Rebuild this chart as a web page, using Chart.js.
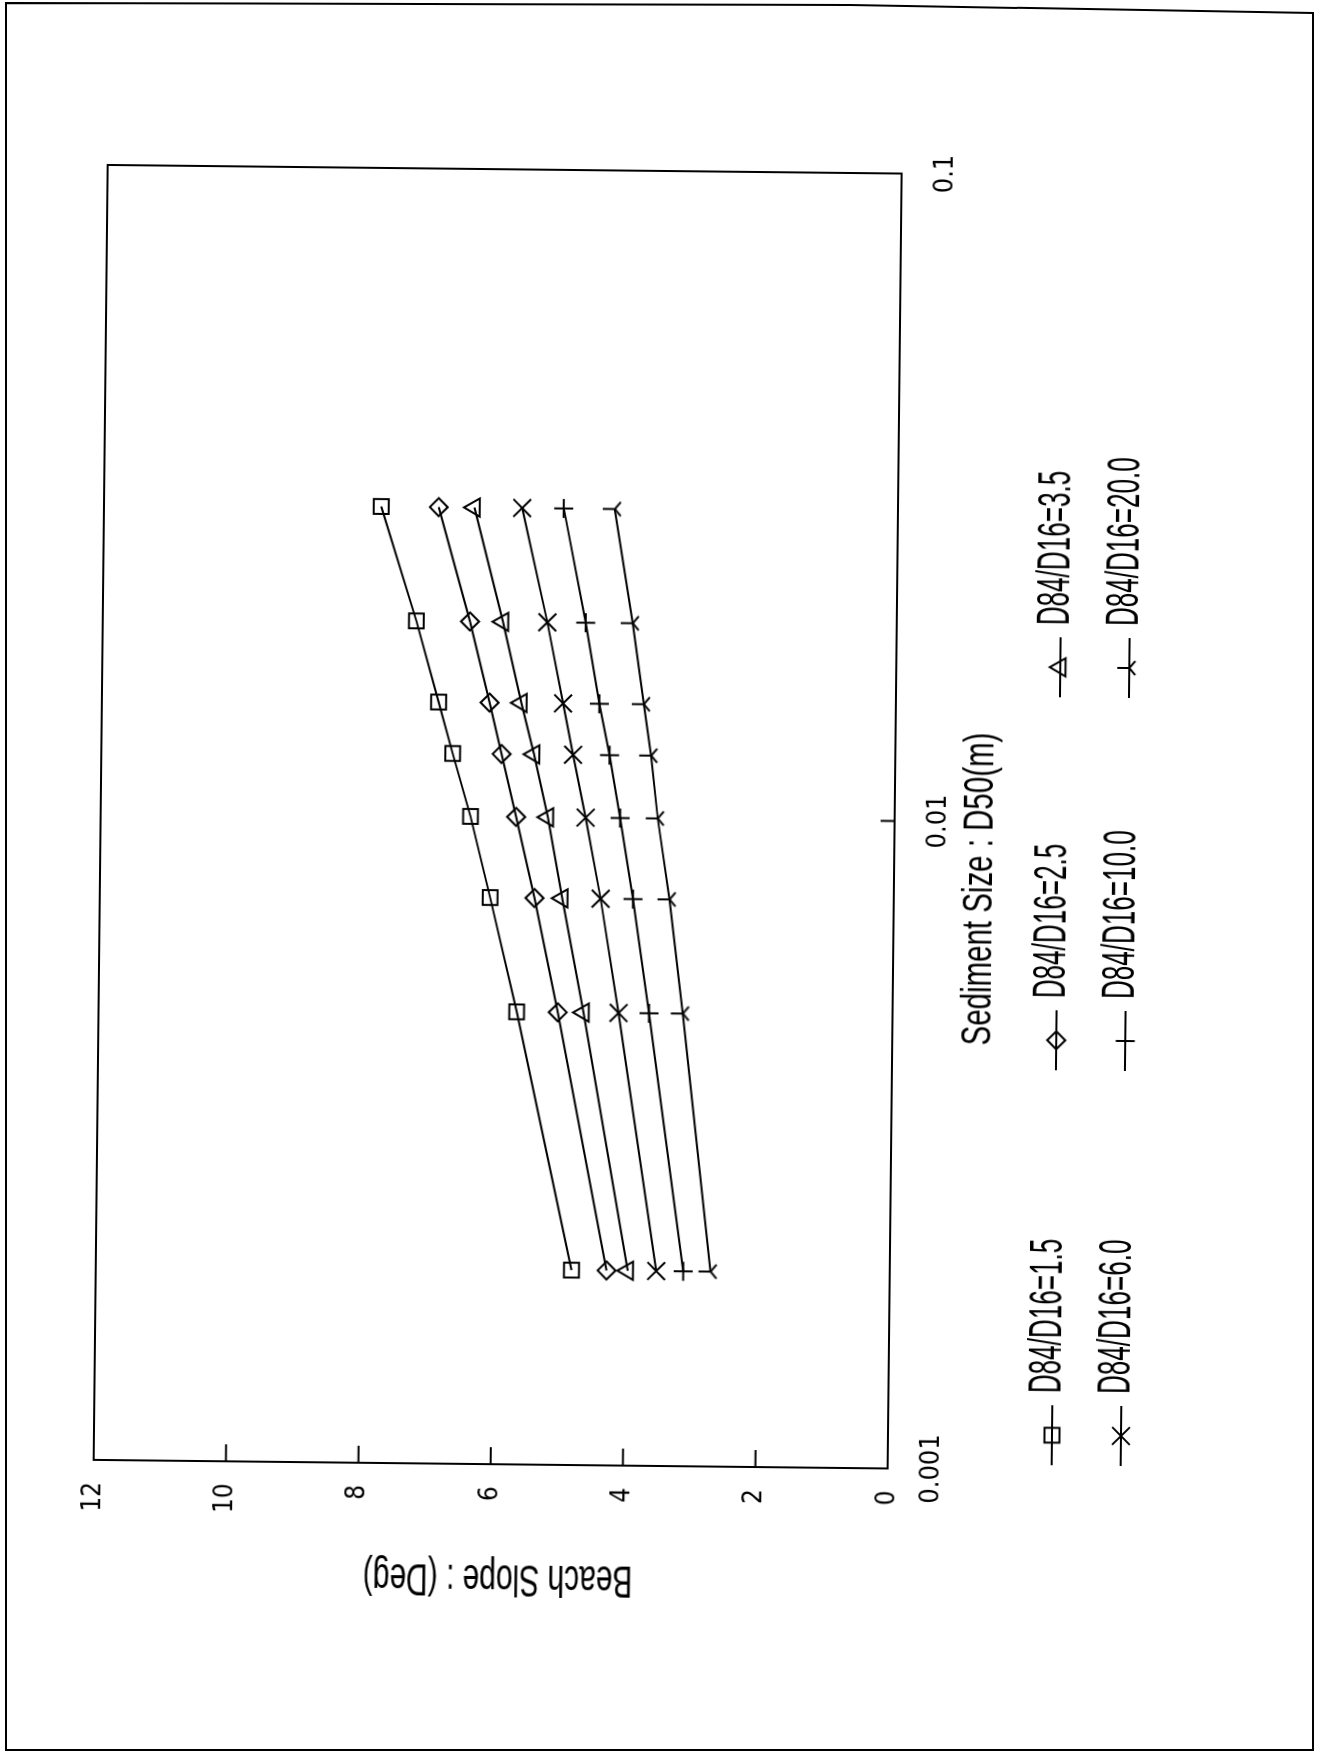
<!DOCTYPE html>
<html>
<head>
<meta charset="utf-8">
<title>Beach Slope vs Sediment Size</title>
<script src="https://cdn.jsdelivr.net/npm/chart.js@4.4.1/dist/chart.umd.min.js"></script>
<style>
  html, body { margin: 0; padding: 0; background: #fff; }
  body { width: 1324px; height: 1754px; position: relative; overflow: hidden; }
  #frame { position: absolute; left: 0; top: 0; }
  #turn { position: absolute; left: -215px; top: 215px; width: 1754px; height: 1324px; transform: rotate(-89.38deg); }
  #turn canvas { display: block; }
</style>
</head>
<body>
<svg id="frame" width="1324" height="1754">
  <polygon points="6,3 850,5 1313,13 1313,1750 6,1750" fill="none" stroke="#000" stroke-width="2"/>
</svg>
<div id="turn"><canvas id="slopeChart" width="1754" height="1324"></canvas></div>
<script>
// ---------------- DONNEES ----------------
const d50 = [0.002, 0.005, 0.0075, 0.01, 0.0125, 0.015, 0.02, 0.03];
const slope15 = [4.81, 5.68, 6.10, 6.41, 6.69, 6.91, 7.26, 7.81];
const slope25 = [4.28, 5.06, 5.43, 5.72, 5.95, 6.14, 6.45, 6.94];
const slope35 = [3.96, 4.67, 5.01, 5.24, 5.46, 5.66, 5.95, 6.40];
const slope60 = [3.53, 4.14, 4.43, 4.67, 4.87, 5.03, 5.28, 5.68];
const slope100 = [3.12, 3.68, 3.94, 4.15, 4.32, 4.48, 4.70, 5.05];
const slope200 = [2.71, 3.17, 3.39, 3.58, 3.69, 3.81, 3.99, 4.28];
const seriesLabels = ['D84/D16=1.5', 'D84/D16=2.5', 'D84/D16=3.5', 'D84/D16=6.0', 'D84/D16=10.0', 'D84/D16=20.0'];
const xTicks = [0.001, 0.01, 0.1];
const yTicks = [0, 2, 4, 6, 8, 10, 12];
const xTitle = 'Sediment Size : D50(m)';
const yTitle = 'Beach Slope : (Deg)';

const black = '#000';
const tickFont = '"Liberation Sans Narrow", "DejaVu Sans Condensed", "Liberation Sans", sans-serif';

// Marqueur "Y" renversé (pas dispo dans Chart.js)
function tripod() {
    const c = document.createElement('canvas');
    c.width = 30;
    c.height = 30;
    const g = c.getContext('2d');
    g.strokeStyle = black;
    g.lineWidth = 2;
    g.beginPath();
    g.moveTo(15, 15); g.lineTo(15, 3);
    g.moveTo(15, 15); g.lineTo(8, 21);
    g.moveTo(15, 15); g.lineTo(22, 21);
    g.stroke();
    return c;
}

const styles = ['rect', 'rectRot', 'triangle', 'crossRot', 'cross', tripod()];
const radii = [10.5, 9, 10.5, 12.5, 9.5, 12];
const allSlopes = [slope15, slope25, slope35, slope60, slope100, slope200];

const datasets = allSlopes.map((s, i) => ({
    label: seriesLabels[i],
    data: d50.map((x, j) => ({ x: x, y: s[j] })),
    showLine: true,
    borderColor: black,
    borderWidth: 2,
    tension: 0,
    pointStyle: styles[i],
    pointRadius: radii[i],
    pointHoverRadius: radii[i],
    pointBorderColor: black,
    pointBackgroundColor: 'rgba(0,0,0,0)',
    pointBorderWidth: 2
}));

// texte étroit façon traceur
function narrowText(ctx, text, x, y, capH, rot) {
    ctx.save();
    ctx.translate(x, y);
    ctx.rotate(rot || 0);
    ctx.font = Math.round(capH / 0.72) + 'px "Liberation Sans", Arial, sans-serif';
    const w = ctx.measureText(text).width;
    const target = text.length * 14.4 - 4;
    ctx.scale(target / w, 1);
    ctx.textAlign = 'left';
    ctx.textBaseline = 'alphabetic';
    ctx.fillStyle = black;
    ctx.fillText(text, 0, 0);
    ctx.restore();
}

function legendMarker(ctx, i, px, py) {
    const opts = { pointStyle: styles[i], radius: radii[i], rotation: 0, borderWidth: 2 };
    ctx.save();
    ctx.strokeStyle = black;
    ctx.fillStyle = 'rgba(0,0,0,0)';
    ctx.lineWidth = 2;
    ctx.beginPath();
    ctx.moveTo(px - 30, py);
    ctx.lineTo(px + 30, py);
    ctx.stroke();
    Chart.helpers.drawPoint(ctx, opts, px, py);
    ctx.restore();
}

const legendCols = [323, 718, 1091];
const legendRows = [1066, 1135];

const plotDecor = {
    id: 'plotDecor',
    afterDraw(chart) {
        const { ctx, chartArea: a, scales } = chart;
        const x = scales.x;
        const y = scales.y;
        ctx.save();
        ctx.strokeStyle = black;
        ctx.lineWidth = 2;
        ctx.strokeRect(a.left, a.top, a.right - a.left, a.bottom - a.top);

        // graduations vers l'intérieur
        ctx.beginPath();
        y.ticks.forEach(t => {
            if (t.value > y.min && t.value < y.max) {
                const py = y.getPixelForValue(t.value);
                ctx.moveTo(a.left, py);
                ctx.lineTo(a.left + 17, py);
            }
        });
        x.ticks.forEach(t => {
            if (t.value > x.min && t.value < x.max) {
                const px = x.getPixelForValue(t.value);
                ctx.moveTo(px, a.bottom);
                ctx.lineTo(px, a.bottom - 14);
            }
        });
        ctx.stroke();

        // titres des axes
        narrowText(ctx, xTitle, 712, 992, 31, 0);
        narrowText(ctx, yTitle, 187, 640, 32, -Math.PI / 2);

        // légende 3 x 2
        seriesLabels.forEach((lab, i) => {
            const col = i % 3;
            const row = Math.floor(i / 3);
            const mx = legendCols[col];
            const base = legendRows[row];
            legendMarker(ctx, i, mx, base - 8);
            narrowText(ctx, lab, mx + 42, base, 33, 0);
        });
        ctx.restore();
    }
};

new Chart(document.getElementById('slopeChart'), {
    type: 'scatter',
    data: { datasets: datasets },
    options: {
        responsive: false,
        animation: false,
        events: [],
        layout: { padding: { left: 0, top: 100, right: 171, bottom: 0 } },
        plugins: {
            legend: { display: false },
            tooltip: { enabled: false },
            title: { display: false }
        },
        scales: {
            x: {
                type: 'logarithmic',
                min: 0.001,
                max: 0.1,
                afterBuildTicks: sc => { sc.ticks = xTicks.map(v => ({ value: v })); },
                afterFit: sc => { sc.height = 430; },
                grid: { display: false, drawTicks: false },
                border: { display: false },
                ticks: {
                    autoSkip: false,
                    maxRotation: 0,
                    color: black,
                    padding: 28,
                    font: { family: tickFont, size: 27 },
                    callback: v => String(v)
                }
            },
            y: {
                type: 'linear',
                min: 0,
                max: 12,
                afterBuildTicks: sc => { sc.ticks = yTicks.map(v => ({ value: v })); },
                afterFit: sc => { sc.width = 288; },
                grid: { display: false, drawTicks: false },
                border: { display: false },
                ticks: {
                    color: black,
                    padding: 22,
                    font: { family: tickFont, size: 26 },
                    callback: v => String(v)
                }
            }
        }
    },
    plugins: [plotDecor]
});
</script>
</body>
</html>
